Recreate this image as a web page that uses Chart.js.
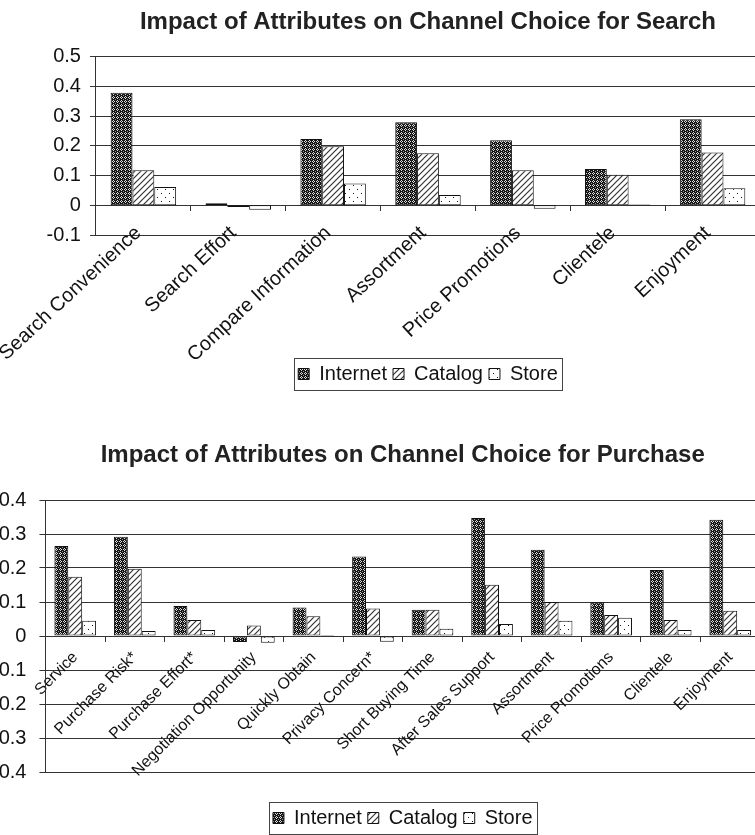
<!DOCTYPE html>
<html>
<head>
<meta charset="utf-8">
<script src="https://cdn.jsdelivr.net/npm/chart.js@4.4.1/dist/chart.umd.min.js"></script>
<style>
  html, body { margin: 0; padding: 0; background: #fff; overflow: hidden; }
  body { width: 755px; height: 835px; position: relative; }
  #searchChart { position: absolute; left: 0; top: 0; }
  #purchaseChart { position: absolute; left: -21px; top: 400px; }
</style>
</head>
<body>
<canvas id="searchChart" width="762" height="400"></canvas>
<canvas id="purchaseChart" width="783" height="440"></canvas>
<script>
// --- data ---
const seriesNames = ['Internet', 'Catalog', 'Store'];

const searchTitle = 'Impact of Attributes on Channel Choice for Search';
const searchCategories = ['Search Convenience', 'Search Effort', 'Compare Information', 'Assortment',
    'Price Promotions', 'Clientele', 'Enjoyment'];
const searchInternet = [0.379, 0.007, 0.223, 0.280, 0.219, 0.122, 0.290];
const searchCatalog = [0.118, -0.006, 0.199, 0.175, 0.118, 0.103, 0.178];
const searchStore = [0.062, -0.015, 0.073, 0.035, -0.012, 0.003, 0.057];
const searchTicks = ['-0.1', '0', '0.1', '0.2', '0.3', '0.4', '0.5'];

const purchaseTitle = 'Impact of Attributes on Channel Choice for Purchase';
const purchaseCategories = ['Service', 'Purchase Risk*', 'Purchase Effort*', 'Negotiation Opportunity',
    'Quickly Obtain', 'Privacy Concern*', 'Short Buying Time', 'After Sales Support', 'Assortment',
    'Price Promotions', 'Clientele', 'Enjoyment'];
const purchaseInternet = [0.265, 0.292, 0.088, -0.018, 0.084, 0.234, 0.077, 0.347, 0.254, 0.099, 0.194, 0.342];
const purchaseCatalog = [0.174, 0.198, 0.047, 0.031, 0.058, 0.081, 0.077, 0.151, 0.100, 0.062, 0.047, 0.074];
const purchaseStore = [0.045, 0.015, 0.018, -0.020, 0.003, -0.017, 0.021, 0.035, 0.045, 0.054, 0.018, 0.018];
const purchaseTicks = ['-0.4', '-0.3', '-0.2', '-0.1', '0', '0.1', '0.2', '0.3', '0.4'];

Chart.defaults.font.family = "'Liberation Sans', Arial, sans-serif";
Chart.defaults.color = '#111';

// black & white fills like the old excel chart
function tile(w, h, draw) {
    const c = document.createElement('canvas');
    c.width = w;
    c.height = h;
    const g = c.getContext('2d');
    draw(g);
    return g.createPattern(c, 'repeat');
}

const patterns = [
    tile(4, 4, g => {
        g.fillStyle = '#151515';
        g.fillRect(0, 0, 4, 4);
        g.fillStyle = '#dcdcdc';
        g.fillRect(1, 0, 1, 1);
        g.fillRect(0, 1, 1, 1);
        g.fillRect(2, 1, 1, 1);
        g.fillRect(1, 2, 1, 1);
        g.fillStyle = '#9a9a9a';
        g.fillRect(3, 3, 1, 1);
    }),
    tile(6, 6, g => {
        g.fillStyle = '#fff';
        g.fillRect(0, 0, 6, 6);
        g.strokeStyle = '#333';
        g.lineWidth = 1.2;
        g.beginPath();
        g.moveTo(-1, 7); g.lineTo(7, -1);
        g.moveTo(-1, 1); g.lineTo(1, -1);
        g.moveTo(5, 7); g.lineTo(7, 5);
        g.stroke();
    }),
    tile(8, 8, g => {
        g.fillStyle = '#fff';
        g.fillRect(0, 0, 8, 8);
        g.fillStyle = '#111';
        g.fillRect(1, 1, 1, 1);
        g.fillRect(5, 5, 1, 1);
    })
];

function buildDatasets(values, catPct) {
    return values.map((v, i) => ({
        label: seriesNames[i],
        data: v,
        backgroundColor: patterns[i],
        borderColor: '#111',
        borderWidth: 1,
        borderSkipped: false,
        categoryPercentage: catPct,
        barPercentage: 1
    }));
}

// box round the legend
const legendFrame = {
    id: 'legendFrame',
    afterDraw(chart) {
        const hb = chart.legend.legendHitBoxes;
        if (!hb || !hb.length) return;
        const left = Math.min(...hb.map(b => b.left)) - 4;
        const right = Math.max(...hb.map(b => b.left + b.width)) + 4;
        const top = hb[0].top - 6;
        const bottom = hb[0].top + hb[0].height + 6;
        const ctx = chart.ctx;
        ctx.save();
        ctx.strokeStyle = '#444';
        ctx.lineWidth = 1;
        ctx.strokeRect(Math.round(left) + 0.5, Math.round(top) + 0.5, Math.round(right - left), Math.round(bottom - top));
        ctx.restore();
    }
};

const gridColor = '#333';
// rotated labels should not push the plot to the right
const noSidePadding = s => { s.paddingLeft = 0; s.paddingRight = 0; };

new Chart(document.getElementById('searchChart'), {
    type: 'bar',
    data: {
        labels: searchCategories,
        datasets: buildDatasets([searchInternet, searchCatalog, searchStore], 0.69)
    },
    options: {
        responsive: false,
        devicePixelRatio: 1,
        animation: false,
        layout: {padding: {left: 37.5, right: 2, top: 0, bottom: 6}},
        plugins: {
            title: {
                display: true, text: searchTitle, fullSize: false, color: '#222',
                font: {size: 24, weight: 'bold'}, padding: {top: 8, bottom: 20}
            },
            legend: {
                position: 'bottom', fullSize: false,
                // empty title only keeps room for the slanted category names
                title: {display: true, text: '', font: {size: 10, lineHeight: 1}, padding: {top: 113, bottom: 0}},
                labels: {font: {size: 20}, boxWidth: 11, boxHeight: 11, padding: 6, color: '#111'}
            },
            tooltip: {enabled: false}
        },
        scales: {
            x: {
                position: {y: 0},
                ticks: {minRotation: 43, maxRotation: 43, autoSkip: false, padding: 10, labelOffset: -5,
                    font: {size: 20}},
                grid: {offset: true, drawOnChartArea: false, tickLength: 6, color: gridColor},
                border: {display: false},
                afterFit: noSidePadding
            },
            y: {
                min: -0.1, max: 0.5,
                ticks: {stepSize: 0.1, padding: 9, font: {size: 20}, callback: (v, i) => searchTicks[i]},
                grid: {color: gridColor, tickLength: 6},
                border: {color: gridColor}
            }
        }
    },
    plugins: [legendFrame]
});

new Chart(document.getElementById('purchaseChart'), {
    type: 'bar',
    data: {
        labels: purchaseCategories,
        datasets: buildDatasets([purchaseInternet, purchaseCatalog, purchaseStore], 0.7)
    },
    options: {
        responsive: false,
        devicePixelRatio: 1,
        animation: false,
        layout: {padding: {left: 0, right: 2, top: 0, bottom: 2}},
        plugins: {
            title: {
                display: true, text: purchaseTitle, fullSize: false, color: '#222',
                font: {size: 24, weight: 'bold'}, padding: {top: 40.6, bottom: 30.6}
            },
            legend: {
                position: 'bottom', fullSize: false,
                title: {display: true, text: '', font: {size: 10, lineHeight: 1}, padding: {top: 20, bottom: 0}},
                labels: {font: {size: 20}, boxWidth: 11, boxHeight: 11, padding: 6, color: '#111'}
            },
            tooltip: {enabled: false}
        },
        scales: {
            x: {
                position: {y: 0},
                ticks: {minRotation: 45, maxRotation: 45, autoSkip: false, padding: 6, font: {size: 16}},
                grid: {offset: true, drawOnChartArea: false, tickLength: 6, color: gridColor},
                border: {display: false},
                afterFit: noSidePadding
            },
            y: {
                min: -0.4, max: 0.4,
                ticks: {stepSize: 0.1, padding: 13, font: {size: 20}, callback: (v, i) => purchaseTicks[i]},
                grid: {color: gridColor, tickLength: 6},
                border: {color: gridColor}
            }
        }
    },
    plugins: [legendFrame]
});
</script>
</body>
</html>
